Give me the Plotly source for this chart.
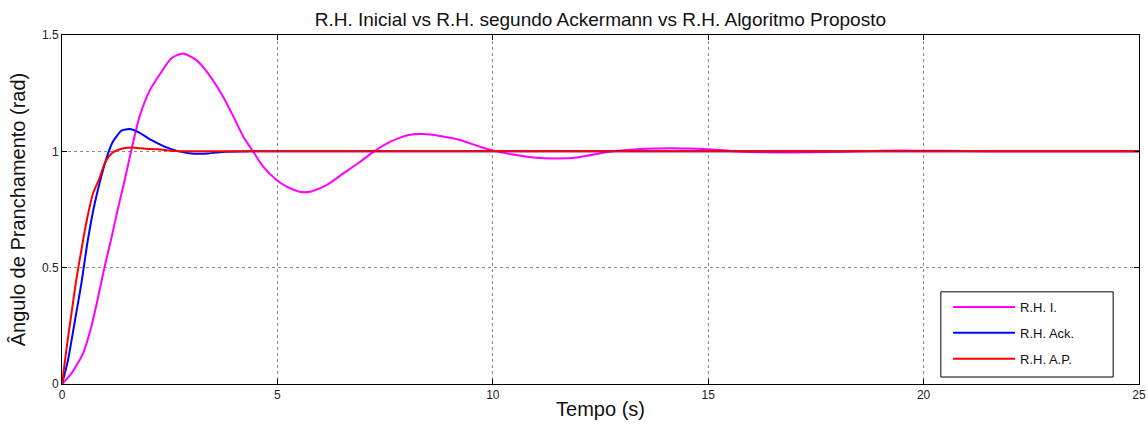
import plotly.graph_objects as go

# Step responses of the steering angle (rad) versus time (s)
t_inicial = [0, 0.22, 0.49, 0.68, 0.84, 0.99, 1.15, 1.30, 1.46, 1.61, 1.80, 2.04, 2.31,
             2.54, 2.81, 3.12, 3.39, 3.74, 3.98, 4.21, 4.44, 4.67, 4.98, 5.22, 5.52,
             5.76, 6.14, 6.53, 6.92, 7.23, 7.61, 8.04, 8.39, 8.77, 9.24, 9.70, 10.01,
             10.5, 11.0, 11.5, 12.0, 12.7, 13.2, 13.7, 14.2, 14.6, 15.1, 15.6, 16.2,
             17.0, 17.8, 18.5, 19.1, 19.8, 20.5, 21.5, 23.0, 25.0]
y_inicial = [0, 0.046, 0.132, 0.246, 0.375, 0.504, 0.630, 0.755, 0.880, 1.006, 1.149,
             1.263, 1.342, 1.400, 1.421, 1.392, 1.335, 1.235, 1.149, 1.063, 0.998,
             0.934, 0.877, 0.848, 0.826, 0.826, 0.855, 0.905, 0.955, 0.998, 1.041,
             1.070, 1.074, 1.066, 1.049, 1.020, 1.003, 0.985, 0.972, 0.969, 0.975,
             0.998, 1.007, 1.012, 1.013, 1.012, 1.008, 1.000, 0.996, 0.995, 0.997,
             1.000, 1.003, 1.003, 1.002, 1.000, 1.000, 1.000]

t_ack = [0, 0.14, 0.29, 0.45, 0.60, 0.76, 0.91, 1.07, 1.18, 1.38, 1.57, 1.76, 2.07,
         2.38, 2.69, 3.00, 3.39, 3.80, 4.50, 25.0]
y_ack = [0, 0.103, 0.261, 0.433, 0.619, 0.777, 0.891, 0.991, 1.041, 1.089, 1.096,
         1.084, 1.049, 1.020, 1.001, 0.991, 0.991, 0.998, 1.000, 1.000]

t_ap = [0, 0.10, 0.22, 0.33, 0.45, 0.56, 0.72, 0.87, 0.99, 1.15, 1.34, 1.61, 1.92,
        2.23, 2.62, 3.50, 25.0]
y_ap = [0, 0.146, 0.304, 0.447, 0.576, 0.690, 0.819, 0.884, 0.948, 0.991, 1.009,
        1.016, 1.011, 1.009, 1.001, 1.000, 1.000]

x_ticks = [0, 5, 10, 15, 20, 25]
y_ticks = [0, 0.5, 1, 1.5]
y_tick_text = ["0", "0.5", "1", "1.5"]

FONT = "Arial, Liberation Sans, sans-serif"

fig = go.Figure()
series = [
    (t_inicial, y_inicial, "R.H. I.", "#FF00FF"),
    (t_ack, y_ack, "R.H. Ack.", "#0000FF"),
    (t_ap, y_ap, "R.H. A.P.", "#FF0000"),
]
for t, y, name, color in series:
    fig.add_trace(go.Scatter(x=t, y=y, mode="lines", name=name, legendgroup=name,
                             line=dict(color=color, width=2, shape="spline",
                                       smoothing=0.6)))

axis_common = dict(
    showline=True, linecolor="black", linewidth=1, mirror="ticks",
    ticks="inside", ticklen=5, tickcolor="black",
    showgrid=True, gridcolor="#8a8a8a", gridwidth=1, griddash="dot",
    zeroline=False, automargin=False,
    tickfont=dict(family=FONT, size=12, color="#222"),
)

fig.update_xaxes(range=[0, 25], tickvals=x_ticks,
                 title=dict(text="Tempo (s)", font=dict(family=FONT, size=20, color="#111"),
                            standoff=0),
                 **axis_common)
fig.update_yaxes(range=[0, 1.5], tickvals=y_ticks, ticktext=y_tick_text,
                 title=dict(text="Ângulo de Pranchamento (rad)",
                            font=dict(family=FONT, size=20, color="#111"), standoff=10),
                 **axis_common)

# legend frame
fig.add_shape(type="rect", xref="paper", yref="paper",
              x0=0.816, x1=0.976, y0=0.020, y1=0.264,
              line=dict(color="black", width=1), fillcolor="white", layer="above")

fig.update_layout(
    width=1148, height=429,
    margin=dict(l=62, r=9, t=35, b=45),
    paper_bgcolor="white", plot_bgcolor="white",
    title=dict(text="R.H. Inicial vs R.H. segundo Ackermann vs R.H. Algoritmo Proposto",
               x=0.523, xanchor="center", y=0.955, yanchor="middle",
               font=dict(family=FONT, size=19, color="#111")),
    legend=dict(x=0.8227, y=0.2636, xanchor="left", yanchor="top",
                bgcolor="rgba(0,0,0,0)", borderwidth=0,
                font=dict(family=FONT, size=13, color="#111"),
                itemwidth=62, tracegroupgap=6),
    showlegend=True,
)

fig.write_html("out.html")
